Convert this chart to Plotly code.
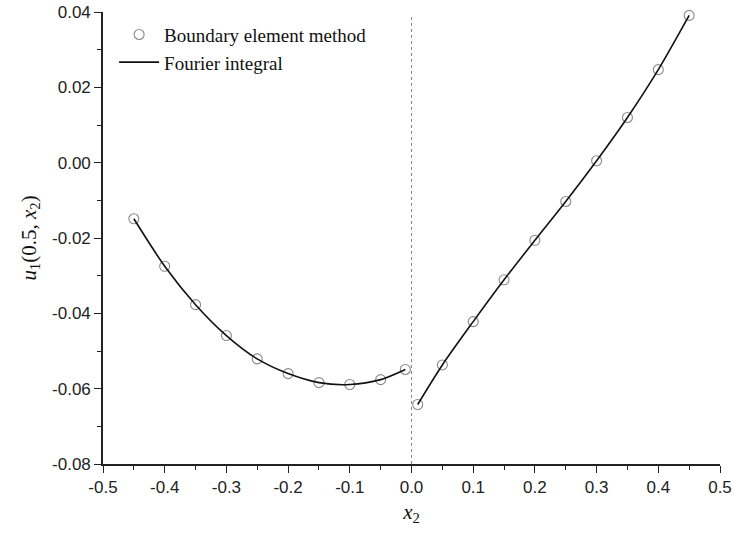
import plotly.graph_objects as go

# Boundary element method samples, negative and positive x2 branches
bem_x_neg = [-0.45, -0.40, -0.35, -0.30, -0.25, -0.20, -0.15, -0.10, -0.05, -0.01]
bem_u_neg = [-0.0149, -0.0275, -0.0377, -0.0459, -0.0521, -0.0560, -0.0584, -0.0589, -0.0576, -0.0549]
bem_x_pos = [0.01, 0.05, 0.10, 0.15, 0.20, 0.25, 0.30, 0.35, 0.40, 0.45]
bem_u_pos = [-0.0642, -0.0537, -0.0422, -0.0311, -0.0206, -0.0103, 0.0005, 0.0120, 0.0247, 0.0391]

# Fourier integral solution on each side of the interface
fourier_x_neg = bem_x_neg
fourier_u_neg = bem_u_neg
fourier_x_pos = bem_x_pos
fourier_u_pos = bem_u_pos

x_tick_vals = [-0.5, -0.4, -0.3, -0.2, -0.1, 0.0, 0.1, 0.2, 0.3, 0.4, 0.5]
x_tick_text = ["-0.5", "-0.4", "-0.3", "-0.2", "-0.1", "0.0", "0.1", "0.2", "0.3", "0.4", "0.5"]
y_tick_vals = [-0.08, -0.06, -0.04, -0.02, 0.00, 0.02, 0.04]
y_tick_text = ["-0.08", "-0.06", "-0.04", "-0.02", "0.00", "0.02", "0.04"]

serif = "Liberation Serif, Times New Roman, serif"
sans = "Liberation Sans, Arial, sans-serif"

marker_style = dict(symbol="circle-open", size=10, color="#8a8a8a", line=dict(width=1.1, color="#8a8a8a"))
line_style = dict(color="#111111", width=1.6, shape="spline", smoothing=0.8)

fig = go.Figure()
fig.add_trace(go.Scatter(x=bem_x_neg + [None] + bem_x_pos, y=bem_u_neg + [None] + bem_u_pos,
                         mode="markers", marker=marker_style, cliponaxis=False,
                         name="Boundary element method"))
fig.add_trace(go.Scatter(x=fourier_x_neg, y=fourier_u_neg, mode="lines", line=line_style,
                         name="Fourier integral", legendgroup="f"))
fig.add_trace(go.Scatter(x=fourier_x_pos, y=fourier_u_pos, mode="lines", line=line_style,
                         name="Fourier integral", legendgroup="f", showlegend=False))

# interface at x2 = 0
fig.add_shape(type="line", x0=0, x1=0, xref="x", y0=0, y1=0.99, yref="paper",
              line=dict(color="#888888", width=1, dash="dot"), layer="below")

axis_common = dict(showline=True, linecolor="#222222", linewidth=1.6, mirror=False,
                   showgrid=False, zeroline=False, ticks="outside", ticklen=7,
                   tickwidth=1.4, tickcolor="#222222",
                   tickfont=dict(family=sans, size=17, color="#222222"))

fig.update_xaxes(range=[-0.5, 0.5], tickvals=x_tick_vals, ticktext=x_tick_text,
                 minor=dict(ticks="outside", ticklen=4, tickwidth=1.2, tickcolor="#222222",
                            tickvals=[-0.45, -0.35, -0.25, -0.15, -0.05, 0.05, 0.15, 0.25, 0.35, 0.45]),
                 title=dict(text="<i>x</i><sub>2</sub>", font=dict(family=serif, size=21, color="#111111"),
                            standoff=8),
                 **axis_common)
fig.update_yaxes(range=[-0.08, 0.04], tickvals=y_tick_vals, ticktext=y_tick_text,
                 minor=dict(ticks="outside", ticklen=4, tickwidth=1.2, tickcolor="#222222",
                            tickvals=[-0.07, -0.05, -0.03, -0.01, 0.01, 0.03]),
                 title=dict(text="<i>u</i><sub>1</sub>(0.5, <i>x</i><sub>2</sub>)",
                            font=dict(family=serif, size=21, color="#111111"), standoff=10),
                 **axis_common)

fig.update_layout(
    width=734, height=535,
    margin=dict(l=103, r=14, t=12, b=71, autoexpand=False),
    paper_bgcolor="white", plot_bgcolor="white",
    showlegend=True,
    legend=dict(x=0.018, y=0.992, xanchor="left", yanchor="top",
                font=dict(family=serif, size=19, color="#111111"),
                bgcolor="rgba(0,0,0,0)", tracegroupgap=0, itemwidth=40),
)

fig.write_html("out.html")
